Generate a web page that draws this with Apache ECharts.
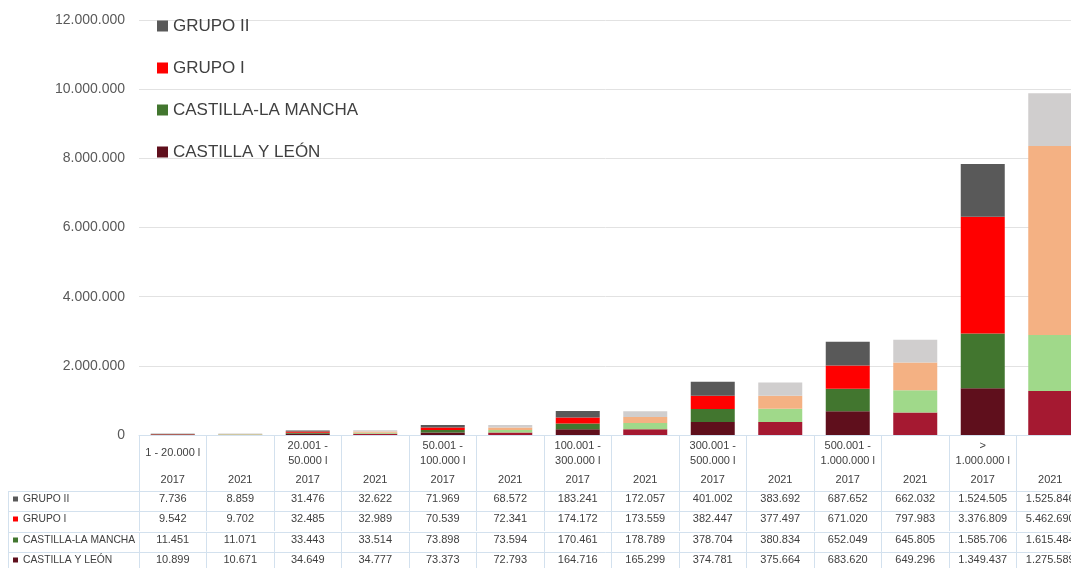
<!DOCTYPE html>
<html><head><meta charset="utf-8">
<script src="https://cdn.jsdelivr.net/npm/echarts@6/dist/echarts.min.js"></script>
<style>html,body{margin:0;padding:0;background:#fff}#c{width:1071px;height:568px}</style>
</head><body><div id="c"></div>
<script>
// ---- data ----
const ranges = ['1 - 20.000 l', '20.001 -\n50.000 l', '50.001 -\n100.000 l', '100.001 -\n300.000 l', '300.001 -\n500.000 l', '500.001 -\n1.000.000 l', '>\n1.000.000 l'];
const years = ['2017', '2021'];
const seriesNames = ['CASTILLA Y LEÓN', 'CASTILLA-LA MANCHA', 'GRUPO I', 'GRUPO II'];
const castillaYLeon    = [10899, 10671, 34649, 34777, 73373, 72793, 164716, 165299, 374781, 375664, 683620, 649296, 1349437, 1275589];
const castillaLaMancha = [11451, 11071, 33443, 33514, 73898, 73594, 170461, 178789, 378704, 380834, 652049, 645805, 1585706, 1615484];
const grupoI           = [9542, 9702, 32485, 32989, 70539, 72341, 174172, 173559, 382447, 377497, 671020, 797983, 3376809, 5462690];
const grupoII          = [7736, 8859, 31476, 32622, 71969, 68572, 183241, 172057, 401002, 383692, 687652, 662032, 1524505, 1525846];
const yMin = 0, yMax = 12000000, yStep = 2000000;

// ---- style ----
const colors2017 = ['#5f0f1c', '#42762f', '#ff0000', '#595959'];
const colors2021 = ['#a51931', '#a0d98a', '#f4b183', '#d0cece'];
const FONT = 'Liberation Sans, Arial, sans-serif';
const lineC = '#d3e1ee';
const txtC = '#404040';

const values = [castillaYLeon, castillaLaMancha, grupoI, grupoII];
const cats = [];
ranges.forEach((r, i) => years.forEach(y => cats.push(i + '|' + y)));
const fmt = v => String(v).replace(/\B(?=(\d{3})+(?!\d))/g, '.');

const gridLeft = 139, gridTop = 20, gridH = 415, colW = 67.5;
const baseY = gridTop + gridH;
const rowTops = [491, 511, 532, 552];
const tableOrder = [3, 2, 1, 0]; // GRUPO II, GRUPO I, CLM, CyL

const series = values.map((arr, k) => ({
  name: seriesNames[k],
  type: 'bar',
  stack: 'total',
  barWidth: 44,
  itemStyle: { color: colors2017[k] },
  data: arr.map((v, i) => i % 2 ? { value: v, itemStyle: { color: colors2021[k] } } : v)
}));

const xAxes = [
  {
    type: 'category', data: cats, position: 'bottom',
    axisLine: { lineStyle: { color: lineC } },
    axisTick: { show: true, interval: 0, length: rowTops[0] - baseY, lineStyle: { color: lineC } },
    axisLabel: { interval: 0, margin: 18, verticalAlign: 'middle', lineHeight: 15, fontSize: 11, color: txtC, fontFamily: FONT,
      formatter: (v, i) => i % 2 === 0 ? ranges[i / 2] : '' }
  },
  {
    type: 'category', data: cats, position: 'bottom', offset: 0,
    axisLine: { show: false }, axisTick: { show: false },
    axisLabel: { interval: 0, margin: 45, verticalAlign: 'middle', fontSize: 11, color: txtC, fontFamily: FONT,
      formatter: (v, i) => years[i % 2] }
  }
];
tableOrder.forEach((k, r) => {
  xAxes.push({
    type: 'category', data: values[k].map(fmt), position: 'bottom', offset: rowTops[r] - baseY,
    axisLine: { show: true, lineStyle: { color: lineC } },
    axisTick: { show: true, interval: 0, length: 20, lineStyle: { color: lineC } },
    axisLabel: { interval: 0, margin: 8, verticalAlign: 'middle', fontSize: 11, color: txtC, fontFamily: FONT }
  });
});

const graphic = [];
tableOrder.forEach((k, r) => {
  const cy = rowTops[r] + 8;
  graphic.push({ type: 'line', shape: { x1: 8, y1: rowTops[r] + 0.5, x2: gridLeft, y2: rowTops[r] + 0.5 }, style: { stroke: lineC, lineWidth: 1 } });
  graphic.push({ type: 'rect', shape: { x: 13, y: cy - 2.5, width: 5, height: 5 }, style: { fill: colors2017[k] } });
  graphic.push({ type: 'text', x: 23, y: cy, style: { text: seriesNames[k], fill: txtC, fontSize: 10.3, fontFamily: FONT, verticalAlign: 'middle' } });
});
graphic.push({ type: 'line', shape: { x1: 8.5, y1: rowTops[0], x2: 8.5, y2: 568 }, style: { stroke: lineC, lineWidth: 1 } });

const chart = echarts.init(document.getElementById('c'), null, { renderer: 'canvas' });
chart.setOption({
  animation: false,
  backgroundColor: '#fff',
  textStyle: { fontFamily: FONT },
  grid: { left: gridLeft, top: gridTop, width: colW * cats.length, height: gridH, containLabel: false, outerBoundsMode: 'none' },
  legend: {
    data: ['GRUPO II', 'GRUPO I', 'CASTILLA-LA MANCHA', 'CASTILLA Y LEÓN'],
    orient: 'vertical', left: 157, top: 16, padding: 0, itemGap: 22, itemWidth: 11, itemHeight: 11, icon: 'rect',
    textStyle: { fontSize: 17, color: txtC, fontFamily: FONT, lineHeight: 20 }
  },
  xAxis: xAxes,
  yAxis: {
    type: 'value', min: yMin, max: yMax, interval: yStep,
    axisLine: { show: false }, axisTick: { show: false },
    axisLabel: { formatter: fmt, fontSize: 14, color: '#595959', margin: 14, fontFamily: FONT },
    splitLine: { lineStyle: { color: '#e2e2e2' } }
  },
  series: series,
  graphic: graphic
});
</script></body></html>
